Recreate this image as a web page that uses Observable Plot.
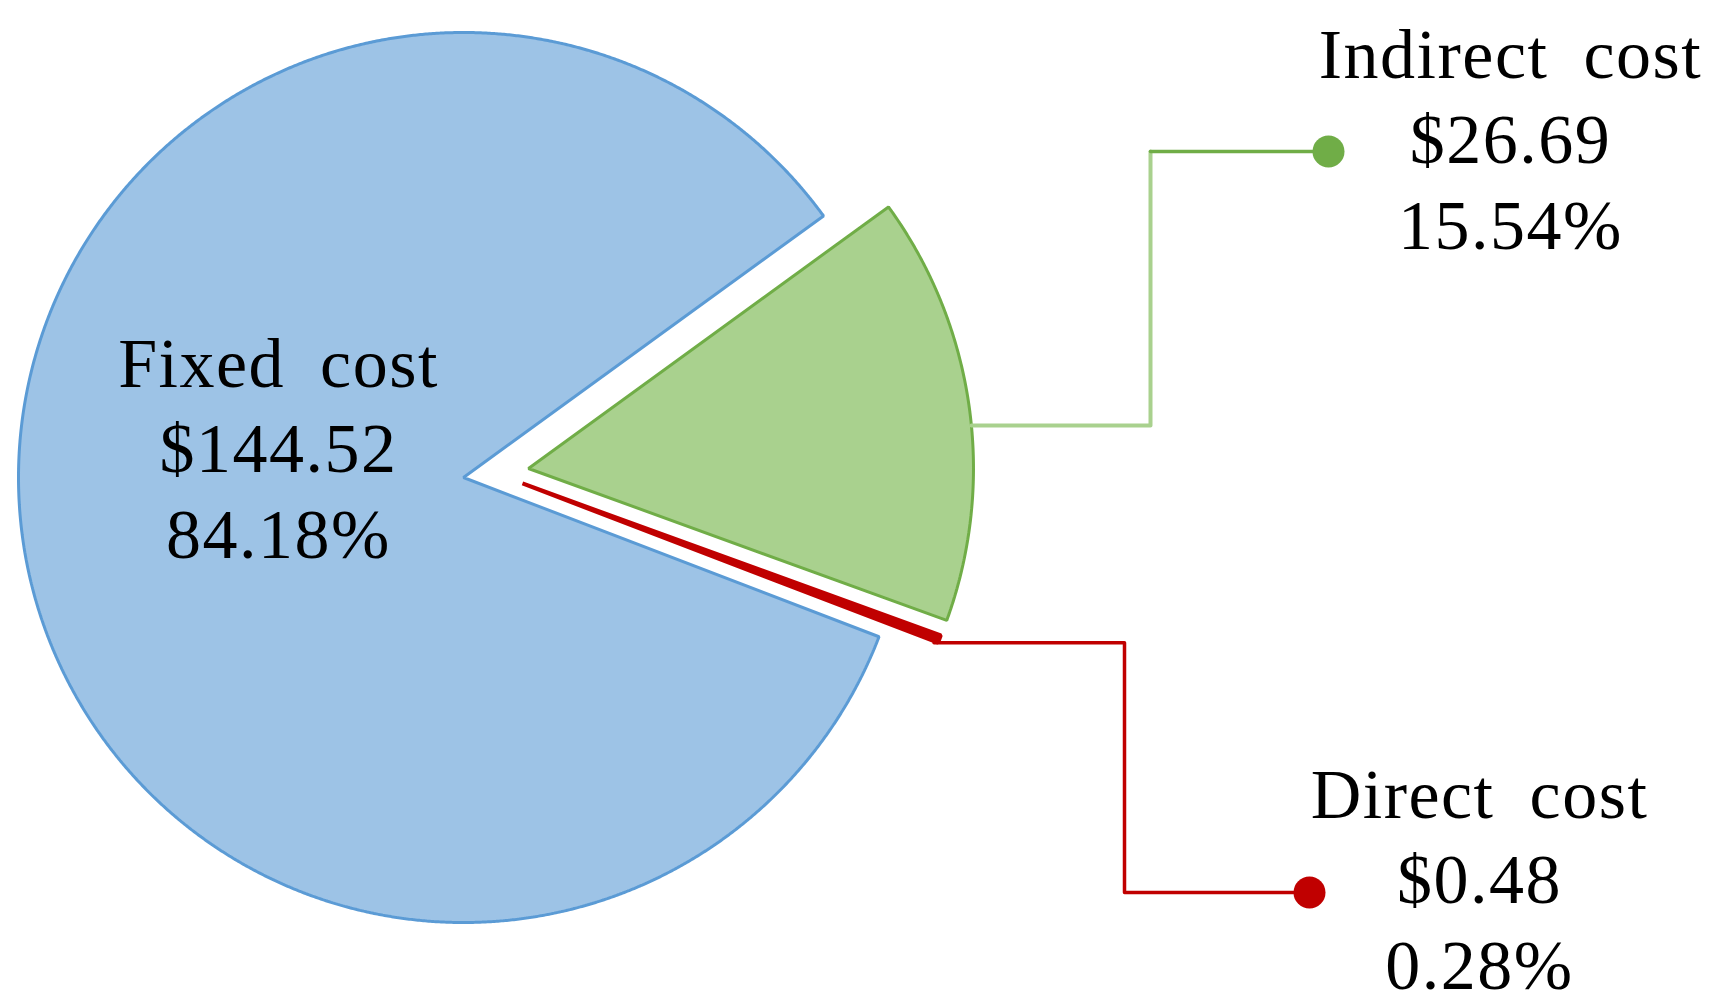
<!DOCTYPE html>
<html><head><meta charset="utf-8">
<script src="https://cdn.jsdelivr.net/npm/d3@7"></script>
<script src="https://cdn.jsdelivr.net/npm/@observablehq/plot@0.6"></script>
<style>html,body{margin:0;padding:0;background:#fff;overflow:hidden}</style>
</head><body><div id="chart"></div>
<script>
// ---- data ----
const categories = ["Indirect cost", "Direct cost", "Fixed cost"];
const costs = [26.69, 0.48, 144.52];
const costLabels = ["$26.69", "$0.48", "$144.52"];
const shareLabels = ["15.54%", "0.28%", "84.18%"];

// ---- styles / layout ----
const fills = ["#a9d18e", "#c00000", "#9dc3e6"];
const strokes = ["#70ad47", "#c00000", "#5b9bd5"];
const strokeWidths = [3, 4, 3];
const W = 1710, H = 1007;
const cx = 463, cy = 477, R = 445;
const startDeg = 54;
const explode = [[65.6, 82.1], [59.3, 95.8], [0, 0]]; // [distance, clock direction deg]
const labelPos = [[1510, 248], [1479, 988], [278, 557]];

const rad = d => d * Math.PI / 180;
const arcs = d3.pie().sort(null).startAngle(rad(startDeg)).endAngle(rad(startDeg) + 2 * Math.PI)(costs);

const slices = arcs.map((a, i) => {
  const [dist, dir] = explode[i];
  const ox = cx + dist * Math.sin(rad(dir));
  const oy = cy - dist * Math.cos(rad(dir));
  const pts = [{x: ox, y: oy, k: i}];
  const n = Math.max(2, Math.ceil((a.endAngle - a.startAngle) / 0.004));
  for (let j = 0; j <= n; j++) {
    const t = a.startAngle + (a.endAngle - a.startAngle) * j / n;
    pts.push({x: ox + R * Math.sin(t), y: oy - R * Math.cos(t), k: i});
  }
  return {ox, oy, a, pts};
});

// leader lines
const g = slices[0];
const gy0 = 425;
const gx0 = g.ox + Math.sqrt(R * R - (gy0 - g.oy) ** 2);
const greenElbowX = 1150, greenTopY = 151, greenDotX = 1328;
const greenLight = [{x: gx0, y: gy0}, {x: greenElbowX, y: gy0}, {x: greenElbowX, y: greenTopY}];
const greenDark = [{x: greenElbowX, y: greenTopY}, {x: greenDotX, y: greenTopY}];

const r = slices[1];
const rsx = r.ox + R * Math.sin(r.a.endAngle);
const rsy = r.oy - R * Math.cos(r.a.endAngle);
const redElbowX = 1124, redBotY = 892, redDotX = 1309;
const redLeader = [{x: rsx - 4, y: rsy}, {x: redElbowX, y: rsy}, {x: redElbowX, y: redBotY}, {x: redDotX, y: redBotY}];

const labels = categories.map((c, i) => ({
  text: c + "\n" + costLabels[i] + "\n" + shareLabels[i],
  x: labelPos[i][0], y: labelPos[i][1]
}));

const sliceMarks = [2, 0, 1].map(i => Plot.line(slices[i].pts, {
  x: "x", y: "y", curve: "linear-closed",
  fill: fills[i], stroke: strokes[i], strokeWidth: strokeWidths[i],
  strokeLinejoin: "miter"
}));

const plot = Plot.plot({
  width: W, height: H, margin: 0,
  x: {domain: [0, W], range: [0, W], axis: null},
  y: {domain: [0, H], range: [0, H], axis: null},
  style: {background: "#fff"},
  marks: [
    ...sliceMarks,
    Plot.line(greenLight, {x: "x", y: "y", stroke: "#a9d18e", strokeWidth: 4}),
    Plot.line(greenDark, {x: "x", y: "y", stroke: "#70ad47", strokeWidth: 3.5}),
    Plot.line(redLeader, {x: "x", y: "y", stroke: "#c00000", strokeWidth: 3.5}),
    Plot.dot([greenDark[1]], {x: "x", y: "y", r: 16, fill: "#70ad47"}),
    Plot.dot([redLeader[3]], {x: "x", y: "y", r: 16, fill: "#c00000"}),
    Plot.text(labels, {
      x: "x", y: "y", text: "text", lineAnchor: "bottom", textAnchor: "middle",
      fontSize: 70, fontFamily: "Liberation Serif", lineHeight: 1.22, fill: "#000"
    })
  ]
});
d3.select(plot).selectAll("g[aria-label=text] text")
  .style("letter-spacing", "1.5px")
  .style("word-spacing", "16px");
document.getElementById("chart").appendChild(plot);
</script>
</body></html>
